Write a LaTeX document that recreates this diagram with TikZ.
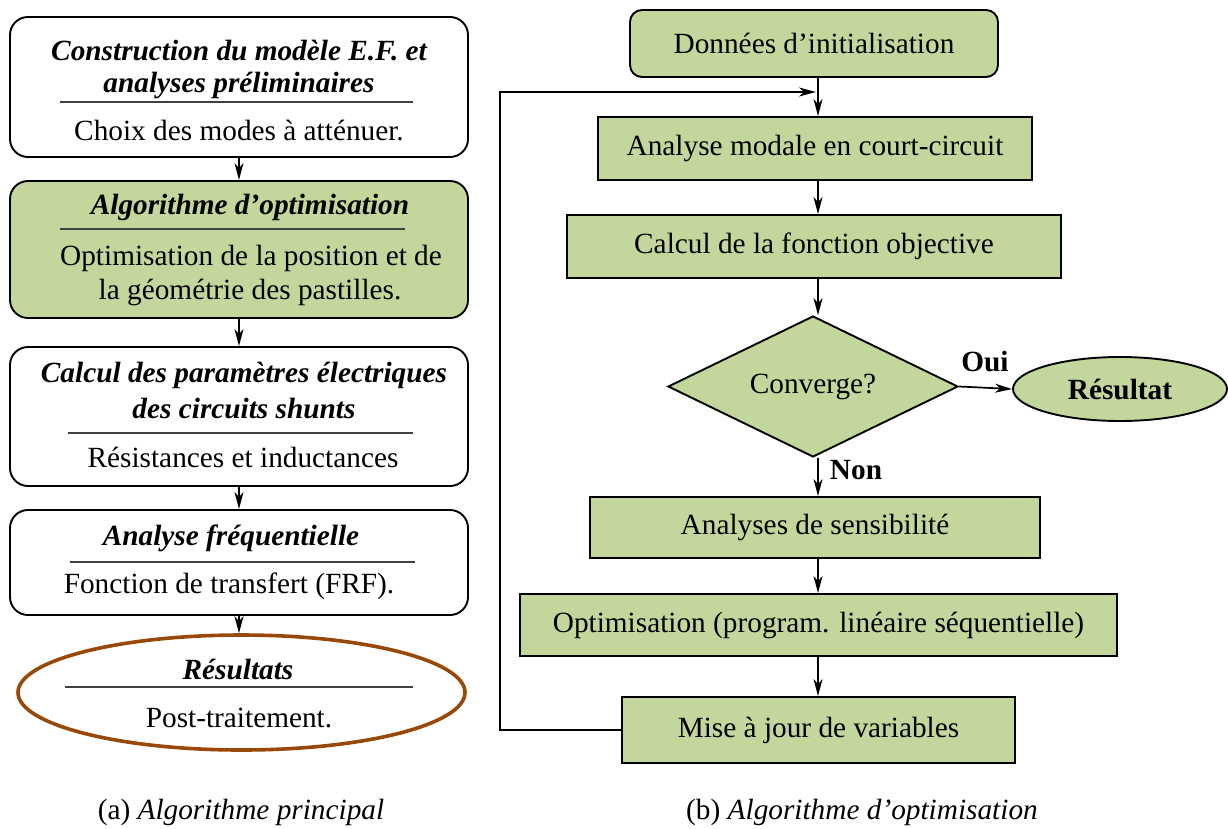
\documentclass[tikz,border=0pt]{standalone}
\usepackage{fontspec}
\setmainfont{Liberation Serif}
\usetikzlibrary{shapes.geometric,arrows.meta}
\definecolor{lgreen}{HTML}{C3D69B}
\definecolor{brownc}{HTML}{984807}
\definecolor{rulec}{HTML}{404040}
\begin{document}
\begin{tikzpicture}[x=1pt,y=-1pt,
  font=\fontsize{29.3}{34}\selectfont,
  box/.style={draw, line width=1.9pt, rounded corners=18pt, inner sep=0pt},
  rbox/.style={draw, line width=1.9pt, fill=lgreen, inner sep=0pt},
  ttl/.style={font=\fontsize{29.3}{34}\selectfont\bfseries\itshape, inner sep=0pt},
  txt/.style={inner sep=0pt},
  lbl/.style={font=\fontsize{29.3}{34}\selectfont\bfseries, inner sep=0pt},
  rulel/.style={draw=rulec, line width=1.3pt},
  arr/.style={draw, line width=1.7pt, -{Stealth[length=17pt,width=9pt,inset=5pt]}}]
\useasboundingbox (0,0) rectangle (1228,828);

% ---------- left: main algorithm ----------
\node[box, minimum width=458pt, minimum height=140pt] (b1) at (239,87) {};
\node[box, fill=lgreen, minimum width=458pt, minimum height=137pt] (b2) at (239,249.5) {};
\node[box, minimum width=458pt, minimum height=139pt] (b3) at (239,416.5) {};
\node[box, minimum width=458pt, minimum height=105pt] (b4) at (239,562.5) {};
\node[ellipse, draw=brownc, line width=3.6pt, minimum width=447pt, minimum height=115pt, inner sep=0pt] (b5) at (241.5,692.5) {};

\node[ttl] (t1a) at (239,51) {Construction du modèle E.F. et};
\node[ttl] (t1b) at (239,85) {analyses préliminaires};
\draw[rulel] (60,102) -- (413,102);
\node[txt] (t1c) at (239,131) {Choix des modes à atténuer.};

\node[ttl] (t2a) at (250,207) {Algorithme d’optimisation};
\draw[rulel] (60,229) -- (405,229);
\node[txt] (t2b) at (251,258) {Optimisation de la position et de};
\node[txt] (t2c) at (250,292) {la géométrie des pastilles.};

\node[ttl] (t3a) at (244,375) {Calcul des paramètres électriques};
\node[ttl] (t3b) at (244,408) {des circuits shunts};
\draw[rulel] (68,433) -- (413,433);
\node[txt] (t3c) at (243,457) {Résistances et inductances};

\node[ttl] (t4a) at (231,538) {Analyse fréquentielle};
\draw[rulel] (70,562) -- (415,562);
\node[txt] (t4b) at (229,586) {Fonction de transfert (FRF).};

\node[ttl] (t5a) at (238,669) {Résultats};
\draw[rulel] (65,687) -- (413,687);
\node[txt] (t5b) at (239,718) {Post-traitement.};

\draw[arr] (b1.south) -- (b2.north);
\draw[arr] (b2.south) -- (b3.north);
\draw[arr] (b3.south) -- (b4.north);
\draw[arr] (b4.south) -- (b4.south |- b5.north);

\node[txt] (capa) at (241,812) {(a) \textit{Algorithme principal}};

% ---------- right: optimisation algorithm ----------
\node[rbox, rounded corners=12pt, minimum width=368pt, minimum height=67pt] (r0) at (814,43.5) {Données d’initialisation};
\node[rbox, minimum width=434pt, minimum height=63pt] (r1) at (815,148.5) {Analyse modale en court-circuit};
\node[rbox, minimum width=494pt, minimum height=63pt] (r2) at (814,246.5) {Calcul de la fonction objective};
\node[diamond, aspect=2, draw, line width=1.9pt, fill=lgreen, inner sep=0pt, minimum width=290pt, minimum height=141pt] (d) at (813,386.5) {Converge?};
\node[ellipse, draw, line width=1.9pt, fill=lgreen, inner sep=0pt, minimum width=214pt, minimum height=64pt, font=\fontsize{29.3}{34}\selectfont\bfseries] (res) at (1120,389) {Résultat};
\node[rbox, minimum width=450pt, minimum height=61pt] (r3) at (815,527.5) {Analyses de sensibilité};
\node[rbox, minimum width=597pt, minimum height=62pt] (r4) at (818.5,625) {Optimisation (program. linéaire séquentielle)};
\node[rbox, minimum width=393pt, minimum height=66pt] (r5) at (818.5,730) {Mise à jour de variables};

\coordinate (ax) at (818,0);
\coordinate (loopend) at (816,92);
\draw[arr] (r0.south -| ax) -- (r1.north -| ax);
\draw[arr] (r1.south -| ax) -- (r2.north -| ax);
\draw[arr] (r2.south -| ax) -- (d.north -| ax);
\draw[arr] (d.east) -- (res.west);
\draw[arr] (d.south -| ax) -- (r3.north -| ax);
\draw[arr] (r3.south -| ax) -- (r4.north -| ax);
\draw[arr] (r4.south -| ax) -- (r5.north -| ax);
\draw[arr] (r5.west) -- (500,730) -- (500,92) -- (loopend);

\node[lbl] (oui) at (985,362) {Oui};
\node[lbl] (non) at (856,470) {Non};

\node[txt] (capb) at (862,812) {(b) \textit{Algorithme d’optimisation}};
\end{tikzpicture}
\end{document}
